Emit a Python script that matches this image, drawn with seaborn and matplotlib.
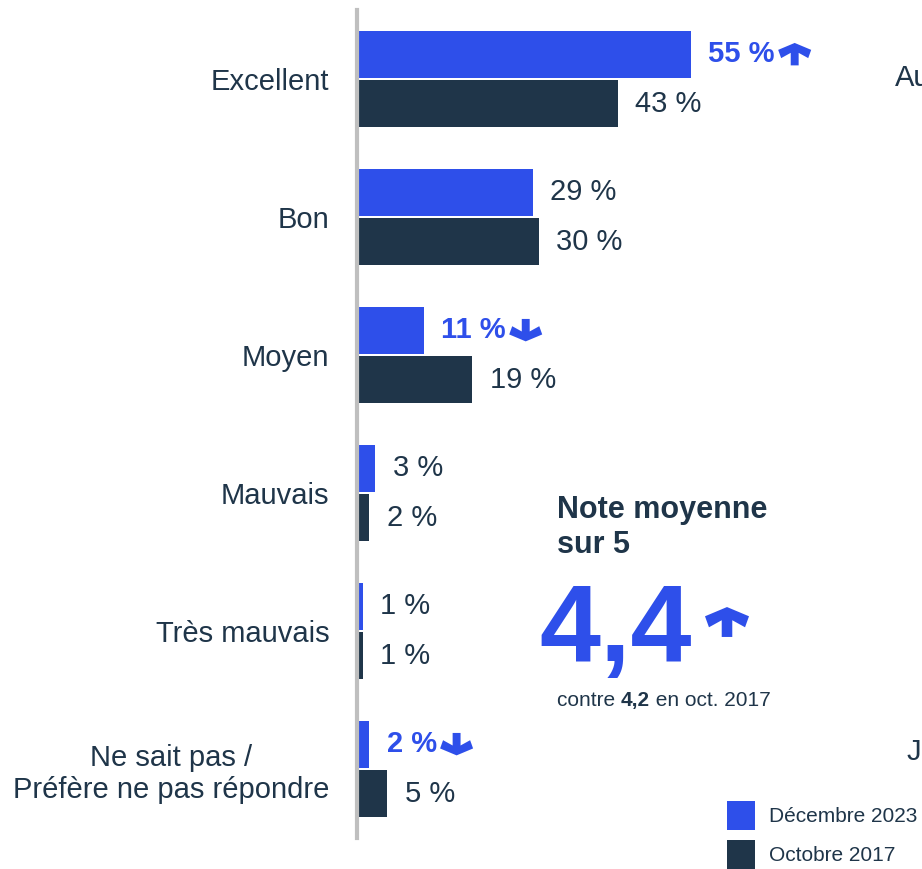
import matplotlib
matplotlib.use("Agg")
import matplotlib.pyplot as plt
import seaborn as sns
import pandas as pd
from matplotlib.offsetbox import DrawingArea, AnnotationBbox
from matplotlib.patches import Polygon

# ---------------- data ----------------
categories = ["Excellent", "Bon", "Moyen", "Mauvais", "Très mauvais",
              "Ne sait pas /\nPréfère ne pas répondre"]
series_names = ["Décembre 2023", "Octobre 2017"]
dec_2023 = [55, 29, 11, 3, 1, 2]
oct_2017 = [43, 30, 19, 2, 1, 5]
trend_2023 = ["up", None, "down", None, None, "down"]
avg_title = "Note moyenne\nsur 5"
avg_2023 = "4,4"
avg_2017 = "4,2"
avg_prefix = "contre "
avg_suffix = " en oct. 2017"
edge_texts = ["Au", "J"]

BLUE = "#2E4FEA"
NAVY = "#1F3549"
GREY = "#BFBFBF"

sns.set_theme(style="white")
plt.rcParams['font.family'] = ['Liberation Sans', 'DejaVu Sans']

W, H = 922, 869
fig = plt.figure(figsize=(W / 100, H / 100), dpi=100)
ax = fig.add_axes([357 / W, 1 - 838 / H, (W - 357) / W, 828 / H])

df = pd.DataFrame({
    "cat": categories * 2,
    "val": dec_2023 + oct_2017,
    "serie": [series_names[0]] * len(categories) + [series_names[1]] * len(categories),
})
sns.barplot(data=df, y="cat", x="val", hue="serie", palette=[BLUE, NAVY],
            orient="h", width=0.72, gap=0.06, saturation=1, linewidth=0,
            ax=ax, legend=True)

ax.set_xlim(0, (W - 357) / 6.07)
ax.set_ylim(len(categories) - 0.5, -0.5)
ax.set_xticks([])
ax.set_xlabel("")
ax.set_ylabel("")
ax.tick_params(axis="y", length=0, pad=20, labelsize=21, labelcolor=NAVY)
for lbl in ax.get_yticklabels():
    lbl.set_multialignment("center")
for s in ["top", "right", "bottom"]:
    ax.spines[s].set_visible(False)
ax.spines["left"].set_color(GREY)
ax.spines["left"].set_linewidth(3)

# arrow outline, normalised to width 1 (x centred at 0, y from 0 up)
ARROW_PTS = [(0, 0.68), (0.5, 0.47), (0.41, 0.22), (0.12, 0.38), (0.12, 0.0),
             (-0.12, 0.0), (-0.12, 0.38), (-0.41, 0.22), (-0.5, 0.47)]
ARROW_H = 0.68


def arrow_box(direction, width_px):
    w = width_px * 0.72  # points
    h = ARROW_H * w
    verts = []
    for x, y in ARROW_PTS:
        yy = y if direction == "up" else ARROW_H - y
        verts.append(((x + 0.5) * w, yy * w))
    da = DrawingArea(w, h, 0, 0)
    da.add_artist(Polygon(verts, closed=True, facecolor=BLUE, edgecolor="none"))
    return da


values = [dec_2023, oct_2017]
for si, cont in enumerate(ax.containers):
    for i, bar in enumerate(cont):
        v = values[si][i]
        hl = si == 0 and trend_2023[i] is not None
        txt = ax.annotate(f"{v} %",
                          xy=(bar.get_width(), bar.get_y() + bar.get_height() / 2),
                          xytext=(12.5, 0), textcoords="offset points",
                          va="center", ha="left", fontsize=21,
                          color=BLUE if hl else NAVY,
                          fontweight="bold" if hl else "normal",
                          annotation_clip=False)
        if hl:
            ab = AnnotationBbox(arrow_box(trend_2023[i], 33), (1, 0.5), xycoords=txt,
                                xybox=(2.5, 0), boxcoords="offset points",
                                box_alignment=(0, 0.5), frameon=False, pad=0,
                                annotation_clip=False)
            ax.add_artist(ab)

# legend
sns.move_legend(ax, "upper left", bbox_to_anchor=(727 / W, 1 - 801 / H),
                bbox_transform=fig.transFigure, frameon=False, title=None,
                fontsize=15, handlelength=1.35, handleheight=1.8,
                handletextpad=0.65, labelspacing=0.45, borderpad=0,
                borderaxespad=0, labelcolor=NAVY)


def px(x, y):
    return x / W, 1 - y / H


# average score block
fig.text(*px(557, 495), avg_title, fontsize=22, fontweight="bold", color=NAVY,
         va="top", ha="left", linespacing=1.22)
fig.text(*px(539, 661), avg_2023, fontsize=79, fontweight="bold", color=BLUE,
         va="baseline", ha="left")
big_arrow = AnnotationBbox(arrow_box("up", 44), (727, H - 622),
                           xycoords="figure pixels", box_alignment=(0.5, 0.5),
                           frameon=False, pad=0, annotation_clip=False)
fig.add_artist(big_arrow)
t1 = fig.text(*px(557, 706), avg_prefix, fontsize=15, color=NAVY,
              va="baseline", ha="left")
t2 = fig.text(0, 0, avg_2017, fontsize=15, color=NAVY, fontweight="bold",
              va="baseline", ha="left")
t3 = fig.text(0, 0, avg_suffix, fontsize=15, color=NAVY,
              va="baseline", ha="left")
fig.canvas.draw()
r = fig.canvas.get_renderer()
bb1 = t1.get_window_extent(r)
t2.set_position((bb1.x1 / W, t1.get_position()[1]))
fig.canvas.draw()
bb2 = t2.get_window_extent(r)
t3.set_position((bb2.x1 / W, t1.get_position()[1]))

# texts cut by the right edge, as in the source picture
fig.text(*px(895, 78), edge_texts[0], fontsize=21, color=NAVY, va="center", ha="left")
fig.text(*px(907, 752), edge_texts[1], fontsize=21, color=NAVY, va="center", ha="left")

fig.savefig("out.png", dpi=100)
